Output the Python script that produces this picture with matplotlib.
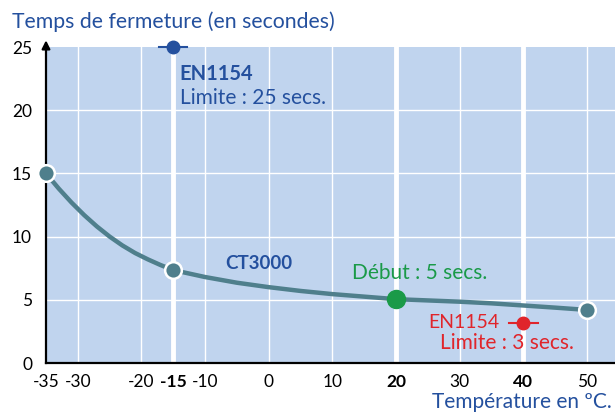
"""Closing time vs temperature chart (CT3000 vs EN1154 limits)."""
import matplotlib.pyplot as plt

plt.rcParams["font.family"] = ["Lato", "DejaVu Sans"]

# CT3000 curve
temps = [-35, -33, -31, -29, -27, -25, -23, -21, -19, -17, -15, -10, -5, 0, 5, 10, 15, 20,
         25, 30, 35, 40, 45, 50]
closing = [15.0, 13.8, 12.7, 11.7, 10.8, 10.0, 9.3, 8.7, 8.2, 7.75, 7.35, 6.8, 6.35, 6.0,
           5.7, 5.45, 5.25, 5.05, 4.95, 4.85, 4.72, 4.55, 4.38, 4.2]
marked_temps = [-35, -15, 50]
marked_vals = [15.0, 7.35, 4.2]

start_temp, start_val = 20, 5.05
en_low_temp, en_low_val = -15, 25
en_high_temp, en_high_val = 40, 3.2

xticks = [-35, -30, -20, -15, -10, 0, 10, 20, 30, 40, 50]
bold_ticks = [-15, 20, 40]
yticks = [0, 5, 10, 15, 20, 25]
thin_vlines = [-30, -20, -10, 0, 10, 30, 50]
thin_hlines = [5, 10, 15, 20]

BG = "#c0d4ee"
CURVE = "#4f7f8c"
BLUE = "#24509e"
GREEN = "#1a9a48"
RED = "#e0252b"

fig = plt.figure(figsize=(6.15, 4.12), dpi=100)
ax = fig.add_axes([46 / 615, 49 / 412, 1 - 46 / 615, 316 / 412])
ax.set_facecolor(BG)
ax.set_xlim(-35, 54.4)
ax.set_ylim(0, 25)

for x in thin_vlines:
    ax.axvline(x, color="white", lw=1.0, zorder=1)
for x in bold_ticks:
    ax.axvline(x, color="white", lw=3.5, zorder=1)
for y in thin_hlines:
    ax.axhline(y, color="white", lw=1.0, zorder=1)

ax.plot(temps, closing, color=CURVE, lw=3.2, zorder=3, solid_capstyle="round")
ax.plot(marked_temps, marked_vals, "o", color=CURVE, ms=12, mec="white", mew=1.8,
        zorder=4, clip_on=False)
ax.plot([start_temp], [start_val], "o", color=GREEN, ms=13, zorder=5)

# EN1154 limits
ax.plot([en_low_temp - 2.2, en_low_temp + 2.2], [en_low_val, en_low_val], color=BLUE,
        lw=1.5, zorder=5, clip_on=False)
ax.plot([en_low_temp], [en_low_val], "o", color=BLUE, ms=9, zorder=6, clip_on=False)
ax.plot([en_high_temp - 2.3, en_high_temp + 2.3], [en_high_val, en_high_val], color=RED,
        lw=1.5, zorder=5)
ax.plot([en_high_temp], [en_high_val], "o", color=RED, ms=9, zorder=6)

ax.text(-14.0, 22.9, "EN1154", color=BLUE, fontsize=14.5, fontweight="bold", va="center")
ax.text(-14.0, 21.0, "Limite : 25 secs.", color=BLUE, fontsize=15, va="center")
ax.text(-6.8, 7.85, "CT3000", color=BLUE, fontsize=13.5, fontweight="bold", va="center")
ax.text(13.1, 7.1, "Début : 5 secs.", color=GREEN, fontsize=15, va="center")
ax.text(36.3, 3.2, "EN1154", color=RED, fontsize=14, ha="right", va="center")
ax.text(26.9, 1.58, "Limite : 3 secs.", color=RED, fontsize=15, va="center")

ax.set_xticks(xticks)
ax.set_xticklabels([str(t) for t in xticks])
for lab, t in zip(ax.get_xticklabels(), xticks):
    if t in bold_ticks:
        lab.set_fontweight("bold")
ax.set_yticks(yticks)
ax.tick_params(length=0, labelsize=12.5, pad=8)
ax.tick_params(axis="y", pad=10)

for side in ["top", "right"]:
    ax.spines[side].set_visible(False)
ax.spines["left"].set_linewidth(1.6)
ax.spines["bottom"].set_linewidth(1.6)
ax.annotate("", xy=(0, 1.03), xytext=(0, 0.99), xycoords="axes fraction",
            arrowprops=dict(arrowstyle="-|>", color="black", lw=1.6,
                            mutation_scale=12))

fig.text(12 / 615, 1 - 22 / 412, "Temps de fermeture (en secondes)", color=BLUE,
         fontsize=15.3, va="center")
fig.text(612 / 615, 1 - 402 / 412, "Température en ºC.", color=BLUE,
         fontsize=15, ha="right", va="center")

fig.savefig("out.png", dpi=100, facecolor="white")
